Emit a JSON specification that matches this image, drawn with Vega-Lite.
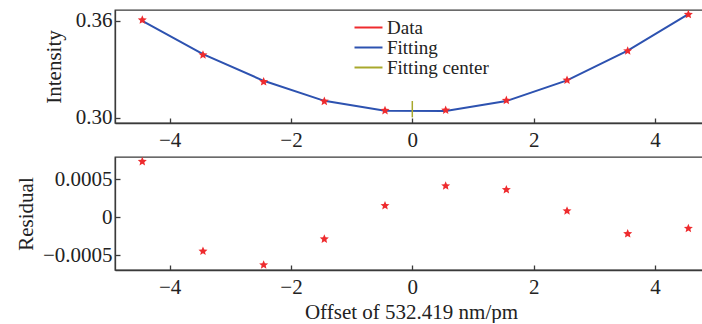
{
  "$schema": "https://vega.github.io/schema/vega-lite/v6.json",
  "padding": {"left": 14, "top": 9, "right": 0, "bottom": 0},
  "spacing": 5,
  "datasets": {
    "pts": [
      {"offset": -4.45, "intensity": 0.3606, "residual": 0.00073},
      {"offset": -3.45, "intensity": 0.3390, "residual": -0.00045},
      {"offset": -2.45, "intensity": 0.3224, "residual": -0.00063},
      {"offset": -1.45, "intensity": 0.3103, "residual": -0.00029},
      {"offset": -0.45, "intensity": 0.3046, "residual": 0.00015},
      {"offset": 0.55, "intensity": 0.3048, "residual": 0.00041},
      {"offset": 1.55, "intensity": 0.3109, "residual": 0.00036},
      {"offset": 2.55, "intensity": 0.3234, "residual": 0.00008},
      {"offset": 3.55, "intensity": 0.3415, "residual": -0.00022},
      {"offset": 4.55, "intensity": 0.3640, "residual": -0.00015}
    ],
    "fit": [
      {"offset": -4.45, "fit": 0.3601},
      {"offset": -3.45, "fit": 0.3395},
      {"offset": -2.45, "fit": 0.3230},
      {"offset": -1.45, "fit": 0.3106},
      {"offset": -0.45, "fit": 0.3045},
      {"offset": 0.55, "fit": 0.3044},
      {"offset": 1.55, "fit": 0.3105},
      {"offset": 2.55, "fit": 0.3233},
      {"offset": 3.55, "fit": 0.3417},
      {"offset": 4.55, "fit": 0.3642}
    ],
    "center": [
      {"offset": 0, "low": 0.3004, "high": 0.3105}
    ]
  },
  "vconcat": [
    {
      "width": 592,
      "height": 113,
      "layer": [
        {
          "data": {"name": "fit"},
          "mark": {"type": "line", "strokeWidth": 2},
          "encoding": {
            "x": {"field": "offset", "type": "quantitative", "scale": {"domain": [-4.9, 4.857], "nice": false, "zero": false}, "axis": {"title": null, "values": [-4, -2, 0, 2, 4], "format": "d"}},
            "y": {"field": "fit", "type": "quantitative", "scale": {"domain": [0.2969, 0.3668], "nice": false, "zero": false}, "axis": {"title": "Intensity", "values": [0.30, 0.32, 0.34, 0.36], "format": ".2f", "titlePadding": 11, "labelOverlap": false}},
            "color": {"datum": "Fitting", "type": "nominal"}
          }
        },
        {
          "data": {"name": "center"},
          "mark": {"type": "rule", "strokeWidth": 1.5},
          "encoding": {
            "x": {"field": "offset", "type": "quantitative"},
            "y": {"field": "low", "type": "quantitative"},
            "y2": {"field": "high"},
            "color": {"datum": "Fitting center", "type": "nominal"}
          }
        },
        {
          "data": {"name": "pts"},
          "mark": {"type": "point", "shape": "M0,-1L0.265,-0.364L0.951,-0.309L0.428,0.139L0.588,0.809L0,0.45L-0.588,0.809L-0.428,0.139L-0.951,-0.309L-0.265,-0.364Z", "filled": true, "size": 90, "opacity": 1},
          "encoding": {
            "x": {"field": "offset", "type": "quantitative"},
            "y": {"field": "intensity", "type": "quantitative"},
            "color": {
              "datum": "Data",
              "type": "nominal",
              "scale": {"domain": ["Data", "Fitting", "Fitting center"], "range": ["#ee2b2e", "#2d52b0", "#a8a82c"]},
              "legend": {
                "title": null,
                "orient": "none",
                "legendX": 244,
                "legendY": 8,
                "padding": 0,
                "rowPadding": 0,
                "symbolType": "M-2,0L2,0",
                "symbolSize": 196,
                "symbolStrokeWidth": 2,
                "labelOffset": 9,
                "labelFont": "Liberation Serif",
                "labelFontSize": 19,
                "labelColor": "#222222"
              }
            }
          }
        }
      ]
    },
    {
      "width": 592,
      "height": 113,
      "data": {"name": "pts"},
      "mark": {"type": "point", "shape": "M0,-1L0.265,-0.364L0.951,-0.309L0.428,0.139L0.588,0.809L0,0.45L-0.588,0.809L-0.428,0.139L-0.951,-0.309L-0.265,-0.364Z", "filled": true, "size": 90, "opacity": 1, "color": "#ee2b2e"},
      "encoding": {
        "x": {
          "field": "offset", "type": "quantitative",
          "scale": {"domain": [-4.9, 4.857], "nice": false, "zero": false},
          "axis": {"title": "Offset of 532.419 nm/pm", "values": [-4, -2, 0, 2, 4], "format": "d", "titlePadding": 4}
        },
        "y": {
          "field": "residual", "type": "quantitative",
          "scale": {"domain": [-0.000697, 0.00079], "nice": false, "zero": false},
          "axis": {
            "title": "Residual",
            "values": [-0.0005, 0, 0.0005],
            "format": ".4~f",
            "titlePadding": 6,
            "labelOverlap": false
          }
        }
      }
    }
  ],
  "config": {
    "view": {"stroke": "#3a3a3a", "strokeWidth": 1.3},
    "axis": {
      "grid": false,
      "domainColor": "#3a3a3a",
      "domainWidth": 1.3,
      "tickColor": "#3a3a3a",
      "tickWidth": 1.3,
      "tickSize": -5,
      "labelOverlap": false,
      "labelFont": "Liberation Serif",
      "labelFontSize": 21,
      "labelColor": "#222222",
      "titleFont": "Liberation Serif",
      "titleFontSize": 21,
      "titleFontWeight": "normal",
      "titleColor": "#222222"
    },
    "axisX": {"labelPadding": 11},
    "axisY": {"labelPadding": 8}
  }
}
